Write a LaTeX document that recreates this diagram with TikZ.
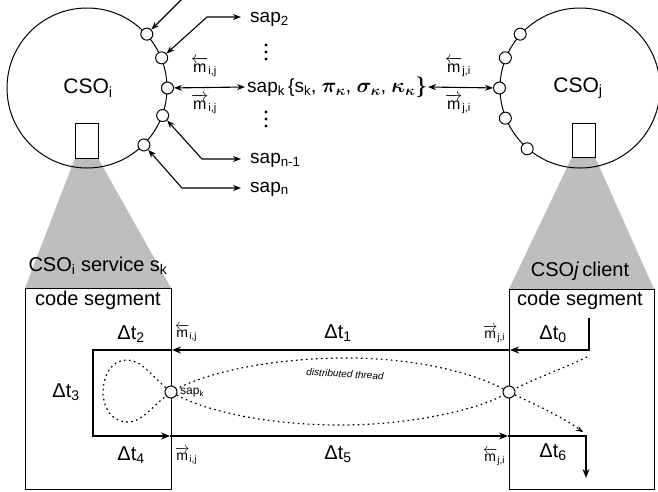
\documentclass[tikz,border=0pt]{standalone}
\usepackage{fontspec}
\usepackage{amsmath}
\usepackage{bm}
\setmainfont{Liberation Sans}
\usetikzlibrary{arrows.meta,calc}
\definecolor{cone}{RGB}{190,190,190}
\newcommand\fs[1]{\fontsize{#1}{#1}\selectfont}
\newcommand\mla[1]{$\overleftarrow{\text{m}}_{\text{#1}}$}
\newcommand\mra[1]{$\overrightarrow{\text{m}}_{\text{#1}}$}
\newcommand\lsub[1]{$_{\text{#1}}$}
\newcommand\gk[1]{{\fs{21}$\bm{#1}_{\bm{\kappa}}$}}
\tikzset{
  cso/.style={draw, circle, line width=1pt, minimum size=160pt, inner sep=0pt},
  sapc/.style={draw, circle, fill=white, line width=1pt, minimum size=12pt, inner sep=0pt},
  segbox/.style={draw, line width=1pt, inner sep=0pt},
  inner/.style={draw, line width=0.8pt, inner sep=0pt},
  arr/.style={line width=1.1pt, {Stealth[length=8pt,width=6pt]}-{Stealth[length=8pt,width=6pt]}},
  flow/.style={line width=1.6pt, -{Stealth[length=9pt,width=7pt]}},
  thread/.style={line width=1.2pt, dash pattern=on 1.6pt off 3.4pt},
  lbl/.style={inner sep=0pt, font=\fs{19}},
  dt/.style={inner sep=0pt, font=\fs{20}},
  ml/.style={inner sep=0pt, font=\fs{16}},
}
\begin{document}
\begin{tikzpicture}[x=1pt, y=-1pt]
\useasboundingbox (0,0) rectangle (658,491);
\clip (0,0) rectangle (658,491);

% grey cones from the code markers down to the code segments
\fill[cone] (75,158) -- (98,158) -- (171,288) -- (25,288) -- cycle;
\fill[cone] (572,157) -- (595,157) -- (654,289) -- (509,289) -- cycle;

% the two objects
\node[cso] (cI) at (87,88) {};
\node[cso] (cJ) at (580,88) {};
\node[font=\fs{21}, inner sep=0pt] (tI) at (88,88) {CSO\lsub{i}};
\node[font=\fs{21}, inner sep=0pt] (tJ) at (578,88) {CSO\lsub{j}};
\node[inner, fill=white, minimum width=23pt, minimum height=35pt] (rI) at (86.5,140.5) {};
\node[inner, fill=white, minimum width=23pt, minimum height=34pt] (rJ) at (583.5,140) {};

% service access points of CSO_i
\node[sapc] (i1) at (cI.42) {};
\node[sapc] (i2) at (cI.22) {};
\node[sapc] (i3) at (cI.0) {};
\node[sapc] (i4) at (cI.-20) {};
\node[sapc] (i5) at (cI.-45) {};
% service access points of CSO_j
\node[sapc] (j1) at (cJ.138) {};
\node[sapc] (j2) at (cJ.158) {};
\node[sapc] (j3) at (cJ.180) {};
\node[sapc] (j4) at (cJ.202) {};
\node[sapc] (j5) at (cJ.229) {};

% sap labels
\node[lbl, anchor=west] (s2) at (250,19) {sap\lsub{2}};
\node[lbl, anchor=west] (sk) at (247,87) {sap\lsub{k}\,\{s\lsub{k}, \gk{\pi}, \gk{\sigma}, \gk{\kappa}{\fs{21}$\bm{\}}$}};
\node[lbl, anchor=west] (sn1) at (250,160) {sap\lsub{n-1}};
\node[lbl, anchor=west] (sn) at (250,189) {sap\lsub{n}};

\coordinate (e1) at (241,-12);
\coordinate (e2) at (241,17);
\coordinate (ek) at (245,87);
\coordinate (en1) at (241,159);
\coordinate (en) at (241,188);
\coordinate (ekr) at (428,87);

\draw[arr] (i1) -- (193,-12) -- (e1);
\draw[arr] (i2) -- (207,17) -- (e2);
\draw[arr] (i3) -- (ek);
\draw[arr] (i4) -- (202,159) -- (en1);
\draw[arr] (i5) -- (182,188) -- (en);
\draw[arr] (ekr) -- (j3);

% vertical ellipses
\foreach \y in {45,52,59,112,119,126}
  \fill (266,\y) circle (1.7pt);

% messages at the access points
\node[ml] (m1) at (204,67) {\mla{i,j}};
\node[ml] (m2) at (204,104) {\mra{i,j}};
\node[ml] (m3) at (458,67) {\mla{j,i}};
\node[ml] (m4) at (458,104) {\mra{j,i}};

% code segments
\node[segbox, minimum width=146pt, minimum height=201pt] (L) at (98,388.5) {};
\node[segbox, minimum width=145pt, minimum height=200pt] (R) at (581.5,389) {};
\node[font=\fs{20}, inner sep=0pt] (hL) at (98,266) {CSO\lsub{i} service s\lsub{k}};
\node[font=\fs{20}, inner sep=0pt] (hR) at (580,271) {CSO\textit{j}\,client};
\node[font=\fs{20}, inner sep=0pt] (cL) at (98,300) {code segment};
\node[font=\fs{20}, inner sep=0pt] (cR) at (580,300) {code segment};

% control flow between the code segments
\coordinate (f0) at (589,318);
\coordinate (f1) at (589,350);
\coordinate (f2) at (510,350);
\coordinate (f3) at (172,350);
\coordinate (f4) at (93,350);
\coordinate (f5) at (93,436);
\coordinate (f6) at (170,436);
\coordinate (f7) at (508,436);
\coordinate (f8) at (586,436);
\coordinate (f9) at (586,478);
\draw[flow] (f0) -- (f1) -- (f2);
\draw[flow] (f2) -- (f3);
\draw[flow] (f3) -- (f4) -- (f5) -- (f6);
\draw[flow] (f6) -- (f7);
\draw[flow] (f7) -- (f8) -- (f9);

% distributed thread
\coordinate (t0) at (587,357);
\coordinate (tL) at (171,392);
\coordinate (tR) at (509,392);
\coordinate (tE) at (583,432);
\draw[thread] (t0) .. controls (565,368) and (530,380) .. (tR)
  .. controls (480,410) and (410,425) .. (340,425)
  .. controls (270,425) and (205,412) .. (tL)
  .. controls (150,375) and (142,360) .. (127,360)
  .. controls (110,360) and (103,378) .. (103,392)
  .. controls (103,408) and (112,422) .. (128,422)
  .. controls (142,422) and (150,408) .. (tL)
  .. controls (205,372) and (270,359) .. (340,358)
  .. controls (410,357) and (475,372) .. (tR)
  .. controls (540,407) and (565,418) .. (tE);
\draw[line width=1.1pt, -{Stealth[length=7pt,width=5.5pt]}] ($(tE)+(-1.4,-0.9)$) -- (tE);
\node[inner sep=0pt, font=\fs{10}\itshape, rotate=-3] (dthr) at (345,374) {distributed thread};

\node[sapc] (pL) at (tL) {};
\node[sapc] (pR) at (tR) {};
\node[inner sep=0pt, anchor=west, font=\fs{12}] (pk) at (180,393) {sap\lsub{k}};

% time intervals
\node[dt] (d0) at (553,334) {Δt\lsub{0}};
\node[dt] (d1) at (338,333) {Δt\lsub{1}};
\node[dt] (d2) at (131,334) {Δt\lsub{2}};
\node[dt] (d3) at (66,392) {Δt\lsub{3}};
\node[dt] (d4) at (131,455) {Δt\lsub{4}};
\node[dt] (d5) at (338,454) {Δt\lsub{5}};
\node[dt] (d6) at (553,452) {Δt\lsub{6}};

% messages on the flow
\node[inner sep=0pt, font=\fs{14}] (q1) at (186,333) {\mla{i,j}};
\node[inner sep=0pt, font=\fs{14}] (q2) at (186,456) {\mra{i,j}};
\node[inner sep=0pt, font=\fs{14}] (q3) at (494,334) {\mra{j,i}};
\node[inner sep=0pt, font=\fs{14}] (q4) at (494,457) {\mla{j,i}};
\end{tikzpicture}
\end{document}
